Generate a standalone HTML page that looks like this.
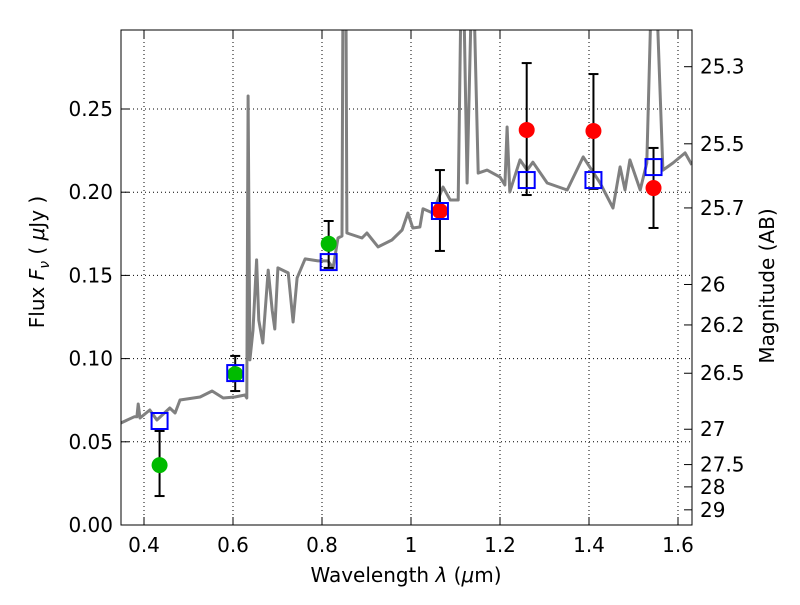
<!DOCTYPE html>
<html><head><meta charset="utf-8"><style>
body{margin:0;background:#fff}
svg text{font-family:"DejaVu Sans","Liberation Sans",sans-serif;fill:#000}
</style></head><body>
<svg id="chart" width="800" height="600" xmlns="http://www.w3.org/2000/svg">
<defs><clipPath id="clip"><rect x="121" y="30" width="571" height="495"/></clipPath></defs>
<g id="grid"></g>
<g id="spec" clip-path="url(#clip)"></g>
<g id="marks" clip-path="url(#clip)"></g>
<rect x="121" y="30" width="571" height="495" fill="none" stroke="#000" stroke-width="1"/>
<g id="axes"></g>
<text x="406" y="582" font-size="20" text-anchor="middle">Wavelength  <tspan font-style="italic">λ</tspan> (<tspan font-style="italic">μ</tspan>m)</text>
<text transform="translate(44,262) rotate(-90)" font-size="20" text-anchor="middle">Flux  <tspan font-style="italic">F</tspan><tspan font-style="italic" font-size="14" dy="5">ν</tspan><tspan dy="-5">  (  </tspan><tspan font-style="italic">μ</tspan>Jy )</text>
<text transform="translate(774,286) rotate(-90)" font-size="20" text-anchor="middle">Magnitude (AB)</text>
</svg>
<script>
const specLam=[0.348,0.378,0.384,0.387,0.391,0.413,0.429,0.458,0.470,0.481,0.526,0.553,0.578,0.604,0.627,0.631,0.634,0.638,0.645,0.653,0.658,0.667,0.679,0.688,0.694,0.701,0.724,0.735,0.744,0.762,0.791,0.813,0.825,0.836,0.845,0.847,0.854,0.856,0.890,0.901,0.926,0.957,0.980,0.993,1.004,1.020,1.027,1.049,1.072,1.088,1.106,1.112,1.119,1.126,1.135,1.142,1.151,1.171,1.200,1.211,1.216,1.222,1.245,1.261,1.274,1.306,1.351,1.387,1.425,1.454,1.470,1.481,1.492,1.515,1.530,1.539,1.553,1.566,1.589,1.616,1.631];
const specFlux=[0.0613,0.065,0.065,0.0727,0.0643,0.0691,0.0631,0.0703,0.0673,0.0751,0.0769,0.0805,0.0763,0.0769,0.0781,0.0763,0.2578,0.0992,0.117,0.1593,0.123,0.1094,0.1532,0.129,0.1178,0.1545,0.1515,0.122,0.1485,0.1599,0.1587,0.1587,0.1545,0.1725,0.1737,0.31,0.31,0.1755,0.1725,0.1755,0.1671,0.1713,0.1773,0.1875,0.1785,0.1791,0.19,0.1875,0.2031,0.1953,0.1953,0.31,0.31,0.2055,0.31,0.31,0.2115,0.2133,0.2091,0.2043,0.2392,0.2002,0.2194,0.2133,0.218,0.2055,0.2013,0.2212,0.2055,0.1905,0.2152,0.2013,0.2194,0.2013,0.2176,0.31,0.31,0.2133,0.2176,0.2236,0.2164];
const obsLam=[0.435,0.605,0.815,1.065,1.26,1.41,1.545];
const obsFlux=[0.036,0.0907,0.169,0.1887,0.2374,0.2368,0.2025];
const obsErrLo=[0.0174,0.0805,0.1545,0.1647,0.1983,0.202,0.1785];
const obsErrHi=[0.0565,0.1016,0.1827,0.2133,0.2776,0.271,0.2266];
const obsColor=["#00bb00","#00bb00","#00bb00","#ff0000","#ff0000","#ff0000","#ff0000"];
const modelFlux=[0.0625,0.0913,0.158,0.1887,0.2073,0.2073,0.2151];
const xTicks=[0.4,0.6,0.8,1.0,1.2,1.4,1.6];
const xTickLabels=["0.4","0.6","0.8","1","1.2","1.4","1.6"];
const yTicks=[0,0.05,0.10,0.15,0.20,0.25];
const yTickLabels=["0.00","0.05","0.10","0.15","0.20","0.25"];
const magTicks=[25.3,25.5,25.7,26,26.2,26.5,27,27.5,28,29];
const magTickLabels=["25.3","25.5","25.7","26","26.2","26.5","27","27.5","28","29"];

const X=l=>144+(l-0.4)*445;
const Y=f=>525-f*1664;
const NS="http://www.w3.org/2000/svg";
function mk(parent,tag,attrs){const e=document.createElementNS(NS,tag);for(const k in attrs)e.setAttribute(k,attrs[k]);parent.appendChild(e);return e;}
const grid=document.getElementById('grid'),axes=document.getElementById('axes'),spec=document.getElementById('spec'),marks=document.getElementById('marks');

xTicks.forEach((t,i)=>{const x=X(t);
 const g=mk(grid,'line',{x1:x,x2:x,y1:30,y2:525,stroke:'#000','stroke-dasharray':'1,3','stroke-width':1});
 
 
 mk(axes,'line',{x1:x,x2:x,y1:525,y2:517,stroke:'#000'});
 mk(axes,'line',{x1:x,x2:x,y1:30,y2:38,stroke:'#000'});
 const tx=mk(axes,'text',{x:x,y:552,'font-size':20,'text-anchor':'middle'});tx.textContent=xTickLabels[i];
 
 
});
yTicks.forEach((t,i)=>{const y=Y(t);
 const g=mk(grid,'line',{x1:121,x2:692,y1:y,y2:y,stroke:'#000','stroke-dasharray':'1,3','stroke-width':1});
 
 
 mk(axes,'line',{x1:121,x2:129,y1:y,y2:y,stroke:'#000'});
 const tx=mk(axes,'text',{x:113,y:y+7,'font-size':20,'text-anchor':'end'});tx.textContent=yTickLabels[i];
 
 
});
magTicks.forEach((m,i)=>{const f=Math.pow(10,(23.9-m)/2.5);const y=Y(f);
 mk(axes,'line',{x1:684,x2:692,y1:y,y2:y,stroke:'#000'});
 const tx=mk(axes,'text',{x:700,y:y+7,'font-size':20});tx.textContent=magTickLabels[i];
 
 
});
const pts=specLam.map((l,i)=>X(l).toFixed(1)+','+Y(specFlux[i]).toFixed(1)).join(' ');
const pl=mk(spec,'polyline',{points:pts,fill:'none',stroke:'#808080','stroke-width':3,'stroke-linejoin':'round'});


obsLam.forEach((l,i)=>{const x=X(l);
 const eb=mk(marks,'g',{stroke:'#000','stroke-width':2});
 
 
 mk(eb,'line',{x1:x,x2:x,y1:Y(obsErrLo[i]),y2:Y(obsErrHi[i])});
 mk(eb,'line',{x1:x-5,x2:x+5,y1:Y(obsErrLo[i]),y2:Y(obsErrLo[i])});
 mk(eb,'line',{x1:x-5,x2:x+5,y1:Y(obsErrHi[i]),y2:Y(obsErrHi[i])});
 const c=mk(marks,'circle',{cx:x,cy:Y(obsFlux[i]),r:8,fill:obsColor[i]});
 
 
 const s=mk(marks,'rect',{x:x-8,y:Y(modelFlux[i])-8,width:16,height:16,fill:'none',stroke:'#0000ff','stroke-width':2});
 
 
});
</script>
</body></html>
